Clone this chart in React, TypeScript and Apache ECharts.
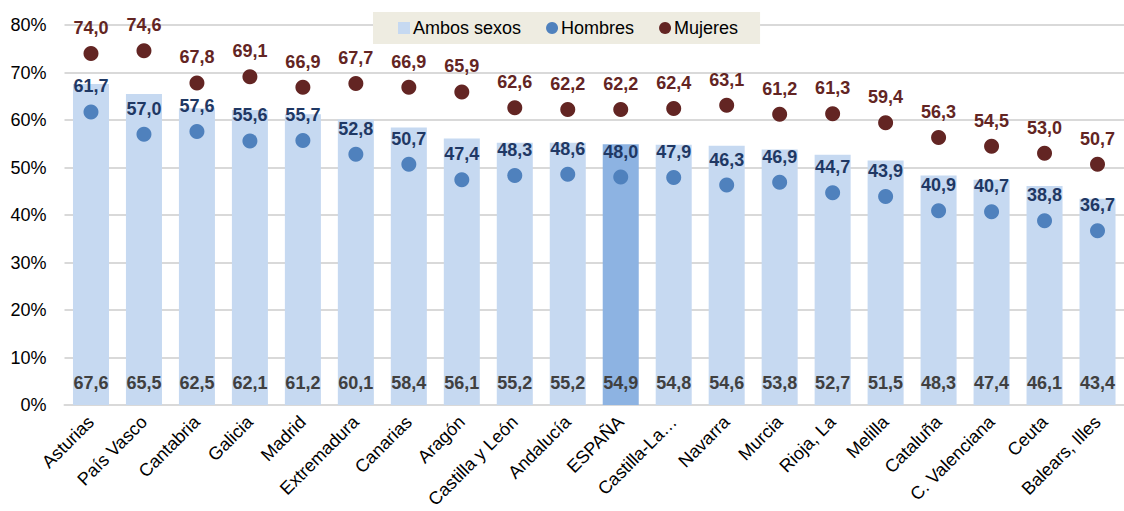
import React, { useEffect, useRef } from "react";
import * as echarts from "echarts";

const categories = [
  "Asturias", "País Vasco", "Cantabria", "Galicia", "Madrid", "Extremadura",
  "Canarias", "Aragón", "Castilla y León", "Andalucía", "ESPAÑA",
  "Castilla-La Mancha", "Navarra", "Murcia", "Rioja, La", "Melilla",
  "Cataluña", "C. Valenciana", "Ceuta", "Balears, Illes",
];
const ambos = [67.6, 65.5, 62.5, 62.1, 61.2, 60.1, 58.4, 56.1, 55.2, 55.2, 54.9, 54.8, 54.6, 53.8, 52.7, 51.5, 48.3, 47.4, 46.1, 43.4];
const hombres = [61.7, 57.0, 57.6, 55.6, 55.7, 52.8, 50.7, 47.4, 48.3, 48.6, 48.0, 47.9, 46.3, 46.9, 44.7, 43.9, 40.9, 40.7, 38.8, 36.7];
const mujeres = [74.0, 74.6, 67.8, 69.1, 66.9, 67.7, 66.9, 65.9, 62.6, 62.2, 62.2, 62.4, 63.1, 61.2, 61.3, 59.4, 56.3, 54.5, 53.0, 50.7];
const yTicks = [0, 10, 20, 30, 40, 50, 60, 70, 80];

const fmt = (v: number) => v.toFixed(1).replace(".", ",");
const FONT = "Liberation Sans, Arial, sans-serif";
const FS = 18;

export default function App() {
  const ref = useRef<HTMLDivElement>(null);
  useEffect(() => {
    if (!ref.current) return;
    const chart = echarts.init(ref.current, null, { renderer: "svg" });
    chart.setOption({
      animation: false,
      textStyle: { fontFamily: FONT },
      legend: {
        left: 373,
        top: 12,
        backgroundColor: "#eeece1",
        padding: [7, 22, 7, 25],
        itemGap: 25,
        itemWidth: 12,
        itemHeight: 12,
        textStyle: { fontSize: FS, color: "#000", fontFamily: FONT, padding: [0, 0, 0, -2] },
        data: [
          { name: "Ambos sexos", icon: "rect" },
          { name: "Hombres", icon: "circle" },
          { name: "Mujeres", icon: "circle" },
        ],
      },
      grid: { left: 64.5, top: 25, width: 1060, height: 381 },
      xAxis: {
        type: "category",
        data: categories,
        axisLine: { lineStyle: { color: "#d9d9d9", width: 2 } },
        axisTick: { show: false },
        axisLabel: {
          rotate: 45,
          interval: 0,
          fontSize: FS,
          color: "#000",
          fontFamily: FONT,
          margin: 14,
          formatter: (v: string) => (v === "Castilla-La Mancha" ? "Castilla-La…" : v),
        },
      },
      yAxis: {
        type: "value",
        min: yTicks[0],
        max: yTicks[yTicks.length - 1],
        interval: 10,
        axisLine: { show: false },
        axisTick: { show: false },
        axisLabel: { formatter: "{value}%", fontSize: FS, color: "#000", fontFamily: FONT, margin: 18 },
        splitLine: { lineStyle: { color: "#d9d9d9", width: 2 } },
      },
      series: [
        {
          name: "Ambos sexos",
          type: "bar",
          barCategoryGap: "32%",
          itemStyle: { color: "#c6d9f1" },
          data: ambos.map((v, i) => ({
            value: v,
            itemStyle: { color: categories[i] === "ESPAÑA" ? "#8db3e2" : "#c6d9f1" },
          })),
          label: {
            show: true,
            position: "insideBottom",
            distance: 13,
            fontSize: FS,
            fontWeight: "bold",
            color: "#404040",
            textBorderWidth: 0,
            textBorderColor: "transparent",
            fontFamily: FONT,
            formatter: (p: any) => fmt(p.value),
          },
          z: 1,
        },
        {
          name: "Hombres",
          type: "scatter",
          symbol: "circle",
          symbolSize: 15,
          itemStyle: { color: "#4f81bd", opacity: 1 },
          data: hombres,
          label: {
            show: true,
            position: "top",
            distance: 9,
            fontSize: FS,
            fontWeight: "bold",
            color: "#1f3864",
            fontFamily: FONT,
            formatter: (p: any) => fmt(p.value),
          },
          z: 3,
        },
        {
          name: "Mujeres",
          type: "scatter",
          symbol: "circle",
          symbolSize: 15,
          itemStyle: { color: "#632523", opacity: 1 },
          data: mujeres,
          label: {
            show: true,
            position: "top",
            distance: 9,
            fontSize: FS,
            fontWeight: "bold",
            color: "#632523",
            fontFamily: FONT,
            formatter: (p: any) => fmt(p.value),
          },
          z: 3,
        },
      ],
    });
    return () => chart.dispose();
  }, []);
  return (
    <div
      ref={ref}
      style={{ position: "fixed", left: 0, top: 0, width: 1124, height: 511, background: "#fff" }}
    />
  );
}
